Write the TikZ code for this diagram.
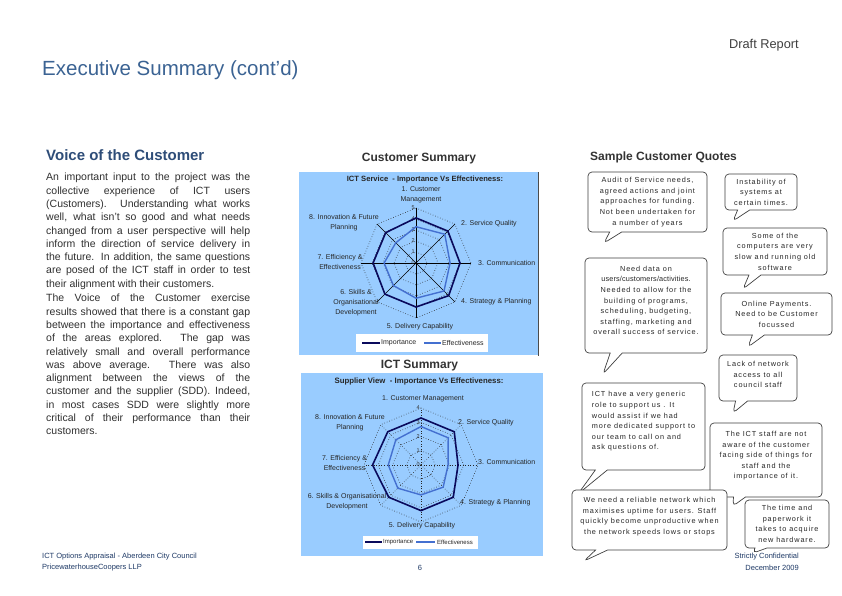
\documentclass[tikz,border=0pt]{standalone}
\usepackage{fontspec}
\setmainfont{Liberation Sans}
\newfontfamily\quotefont[LetterSpace=12]{Liberation Sans}
\newfontfamily\chartfont{Liberation Sans}
\usetikzlibrary{shapes.callouts}
\definecolor{headblue}{HTML}{3B6393}
\definecolor{voiceblue}{HTML}{2E4D78}
\definecolor{footblue}{HTML}{1F3A66}
\definecolor{chartbg}{HTML}{99CCFF}
\definecolor{impnavy}{HTML}{0A0A5C}
\definecolor{effblue}{HTML}{4470D0}
\definecolor{bodygrey}{HTML}{303030}
\begin{document}
\begin{tikzpicture}[x=1pt,y=-1pt,
  txt/.style={inner sep=0pt},
  quote/.style={rectangle callout,draw=black!75,fill=white,line width=0.7pt,
    rounded corners=4pt,callout pointer width=12pt,inner sep=1pt,align=center,
    text=black!85,font=\quotefont\fontsize{7.3}{10.6}\selectfont},
  lbl/.style={inner sep=0pt,align=center,text=black!85,
    font=\chartfont\fontsize{7}{10}\selectfont},
  tick/.style={inner sep=0pt,anchor=east,text=black!80,
    font=\chartfont\fontsize{5.5}{6}\selectfont},
  ring/.style={dotted,line width=0.6pt,black!85},
  imp/.style={impnavy,line width=1.6pt},
  eff/.style={effblue,line width=1.4pt},
  legbox/.style={fill=white,draw=none}]
\useasboundingbox[fill=white] (0,0) rectangle (842,595);

% page heading
\node[txt,anchor=east,text=black!75,font=\fontsize{12.8}{14}\selectfont] (draft) at (799,45) {Draft Report};
\node[txt,anchor=west,text=headblue,font=\fontsize{20.5}{24}\selectfont] (title) at (42,70) {Executive Summary (cont’d)};

% left column
\node[txt,anchor=west,text=voiceblue,font=\bfseries\fontsize{15}{17}\selectfont] (voice) at (46,155) {Voice of the Customer};
\node[txt,anchor=north west,text width=204pt,align=justify,text=bodygrey,
  font=\fontsize{10.5}{13.3}\selectfont] (body) at (46,173) {An important input to the project was the\linebreak
collective experience of ICT users\linebreak
(Customers). Understanding what works\linebreak
well, what isn't so good and what needs\linebreak
changed from a user perspective will help\linebreak
inform the direction of service delivery in\linebreak
the future. In addition, the same questions\linebreak
are posed of the ICT staff in order to test\linebreak
their alignment with their customers.\par\vspace{1.3pt}
The Voice of the Customer exercise\linebreak
results showed that there is a constant gap\linebreak
between the importance and effectiveness\linebreak
of the areas explored. The gap was\linebreak
relatively small and overall performance\linebreak
was above average. There was also\linebreak
alignment between the views of the\linebreak
customer and the supplier (SDD). Indeed,\linebreak
in most cases SDD were slightly more\linebreak
critical of their performance than their\linebreak
customers.};

% footer
\node[txt,anchor=west,text=footblue,font=\fontsize{7.5}{9}\selectfont] (foot1) at (42,557) {ICT Options Appraisal - Aberdeen City Council};
\node[txt,anchor=west,text=footblue,font=\fontsize{7.5}{9}\selectfont] (foot2) at (42,568) {PricewaterhouseCoopers LLP};
\node[txt,text=footblue,font=\fontsize{7.5}{9}\selectfont] (page) at (420,568) {6};
\node[txt,anchor=east,text=footblue,font=\fontsize{7.5}{9}\selectfont] (foot3) at (799,557) {Strictly Confidential};
\node[txt,anchor=east,text=footblue,font=\fontsize{7.5}{9}\selectfont] (foot4) at (799,568) {December 2009};

% customer summary chart
\node[txt,text=black!80,font=\bfseries\fontsize{12}{14}\selectfont] (csum) at (419,159) {Customer Summary};
\fill[chartbg] (299,172) rectangle (538,355);
\draw[black!70,line width=0.8pt] (538,172) -- (538,356);
\node[lbl,font=\bfseries\fontsize{7.6}{9}\selectfont] (ctitle) at (425,180) {ICT Service\ \ - Importance Vs Effectiveness:};
\begin{scope}[shift={(416,263)}]
  \foreach \k in {1,...,5}
    \draw[ring] (-90:{\k*11}) \foreach \i in {1,...,7}{ -- ({-90+45*\i}:{\k*11})} -- cycle;
  \foreach \i in {0,...,7}
    \draw[black,line width=0.5pt] (0,0) -- ({-90+45*\i}:55);
  \foreach \k in {0,...,5}
    \node[tick] (ca\k) at (-1,{-\k*11}) {\k};
  \foreach \v [count=\i] in {4.1,4.1,4.0,4.2,4.0,4.0,3.9,3.9}
    \coordinate (ci\i) at ({-90+45*(\i-1)}:{\v*11});
  \foreach \v [count=\i] in {3.3,3.7,3.1,3.6,3.2,2.9,2.9,2.6}
    \coordinate (ce\i) at ({-90+45*(\i-1)}:{\v*11});
  \draw[imp] (ci1) \foreach \i in {2,...,8}{ -- (ci\i)} -- cycle;
  \draw[eff] (ce1) \foreach \i in {2,...,8}{ -- (ce\i)} -- cycle;
\end{scope}
\node[lbl] (cl1) at (421,194.5) {1. Customer\\Management};
\node[lbl,anchor=west] (cl2) at (461,224) {2. Service Quality};
\node[lbl,anchor=west] (cl3) at (478,263) {3. Communication};
\node[lbl,anchor=west] (cl4) at (461,302) {4. Strategy \& Planning};
\node[lbl] (cl5) at (420,327) {5. Delivery Capability};
\node[lbl] (cl6) at (356,302.5) {6. Skills \&\\Organisational\\Development};
\node[lbl] (cl7) at (340,262) {7. Efficiency \&\\Effectiveness};
\node[lbl] (cl8) at (344,223) {8. Innovation \& Future\\Planning};
\fill[legbox] (356,334) rectangle (488,352);
\draw[imp] (362,343) -- (380,343);
\node[lbl,anchor=west] (cg1) at (381,343) {Importance};
\draw[eff] (424,343) -- (441,343);
\node[lbl,anchor=west] (cg2) at (442,343) {Effectiveness};

% ICT summary chart
\node[txt,text=black!80,font=\bfseries\fontsize{12}{14}\selectfont] (isum) at (419.5,366) {ICT Summary};
\fill[chartbg] (301,373) rectangle (543,556);
\node[lbl,font=\bfseries\fontsize{7.8}{9}\selectfont] (ititle) at (419,381.5) {Supplier View\ \ - Importance Vs Effectiveness:};
\begin{scope}[shift={(421,465)}]
  \foreach \k in {1,...,4}
    \draw[ring] (-90:{\k*14.25}) \foreach \i in {1,...,7}{ -- ({-90+45*\i}:{\k*14.25})} -- cycle;
  \foreach \i in {0,...,7}
    \draw[ring] (0,0) -- ({-90+45*\i}:57);
  \foreach \k in {0,...,4}
    \node[tick] (ia\k) at (-1,{-\k*14.25}) {\k};
  \foreach \v [count=\i] in {3.3,3.3,2.6,3.2,3.2,3.2,3.4,3.3}
    \coordinate (ii\i) at ({-90+45*(\i-1)}:{\v*14.25});
  \foreach \v [count=\i] in {2.7,2.7,1.9,2.2,2.1,2.3,2.3,2.5}
    \coordinate (ie\i) at ({-90+45*(\i-1)}:{\v*14.25});
  \draw[imp] (ii1) \foreach \i in {2,...,8}{ -- (ii\i)} -- cycle;
  \draw[eff] (ie1) \foreach \i in {2,...,8}{ -- (ie\i)} -- cycle;
\end{scope}
\node[lbl] (il1) at (423,398.5) {1. Customer Management};
\node[lbl,anchor=west] (il2) at (458,423) {2. Service Quality};
\node[lbl,anchor=west] (il3) at (478,462) {3. Communication};
\node[lbl,anchor=west] (il4) at (460,503) {4. Strategy \& Planning};
\node[lbl] (il5) at (422,526) {5. Delivery Capability};
\node[lbl] (il6) at (347,502) {6. Skills \& Organisational\\Development};
\node[lbl] (il7) at (344.5,463) {7. Efficiency \&\\Effectiveness};
\node[lbl] (il8) at (350,422.5) {8. Innovation \& Future\\Planning};
\fill[legbox] (363,536) rectangle (478,548.5);
\draw[imp] (365,542) -- (382,542);
\node[lbl,anchor=west,font=\chartfont\fontsize{6}{7}\selectfont] (ig1) at (383,542) {Importance};
\draw[eff] (416,542) -- (435,542);
\node[lbl,anchor=west,font=\chartfont\fontsize{6}{7}\selectfont] (ig2) at (437,542) {Effectiveness};

% customer quotes
\node[txt,anchor=west,text=black!80,font=\bfseries\fontsize{12}{14}\selectfont] (quotes) at (590,157) {Sample Customer Quotes};
\node[quote,minimum width=119pt,minimum height=60pt,callout absolute pointer={(604,243)}] (q1) at (647.5,202)
  {Audit of Service needs,\\agreed actions and joint\\approaches for funding.\\Not been undertaken for\\a number of years};
\node[quote,minimum width=72pt,minimum height=36pt,callout absolute pointer={(733,221)}] (q2) at (761,192)
  {Instability of\\systems at\\certain times.};
\node[quote,minimum width=104pt,minimum height=47pt,callout absolute pointer={(743,289)}] (q3) at (775,251.5)
  {Some of the\\computers are very\\slow and running old\\software};
\node[quote,minimum width=122pt,minimum height=95pt,callout absolute pointer={(603,374)}] (q4) at (646,305.5)
  {Need data on\\{\addfontfeature{LetterSpace=2}users/customers/activities.}\\Needed to allow for the\\building of programs,\\scheduling, budgeting,\\staffing, marketing and\\overall success of service.\\[-0.6pt]\mbox{}};
\node[quote,minimum width=111pt,minimum height=42pt,callout absolute pointer={(748,347)}] (q5) at (776.5,314)
  {Online Payments.\\Need to be Customer\\focussed};
\node[quote,minimum width=78pt,minimum height=46pt,callout absolute pointer={(733,413)}] (q6) at (758,378)
  {Lack of network\\access to all\\council staff\\[-4pt]\mbox{}};
\node[quote,align=left,minimum width=123pt,minimum height=87pt,callout absolute pointer={(578,494)}] (q7) at (643.5,426.5)
  {ICT have a very generic\\role to support us . It\\would assist if we had\\more dedicated support to\\our team to call on and\\ask questions of.\\[1pt]\mbox{}};
\node[quote,minimum width=112pt,minimum height=74pt,callout absolute pointer={(733,506)}] (q8) at (766,460)
  {The ICT staff are not\\aware of the customer\\facing side of things for\\staff and the\\importance of it.\\[-0.6pt]\mbox{}};
\node[quote,minimum width=155pt,minimum height=60pt,callout absolute pointer={(584,561)}] (q9) at (649.5,520)
  {We need a reliable network which\\maximises uptime for users. Staff\\quickly become unproductive when\\the network speeds lows or stops\\[-2.5pt]\mbox{}};
\node[quote,minimum width=84pt,minimum height=48pt,callout absolute pointer={(753,553)}] (q10) at (787,524)
  {The time and\\paperwork it\\takes to acquire\\new hardware.};
\end{tikzpicture}
\end{document}
